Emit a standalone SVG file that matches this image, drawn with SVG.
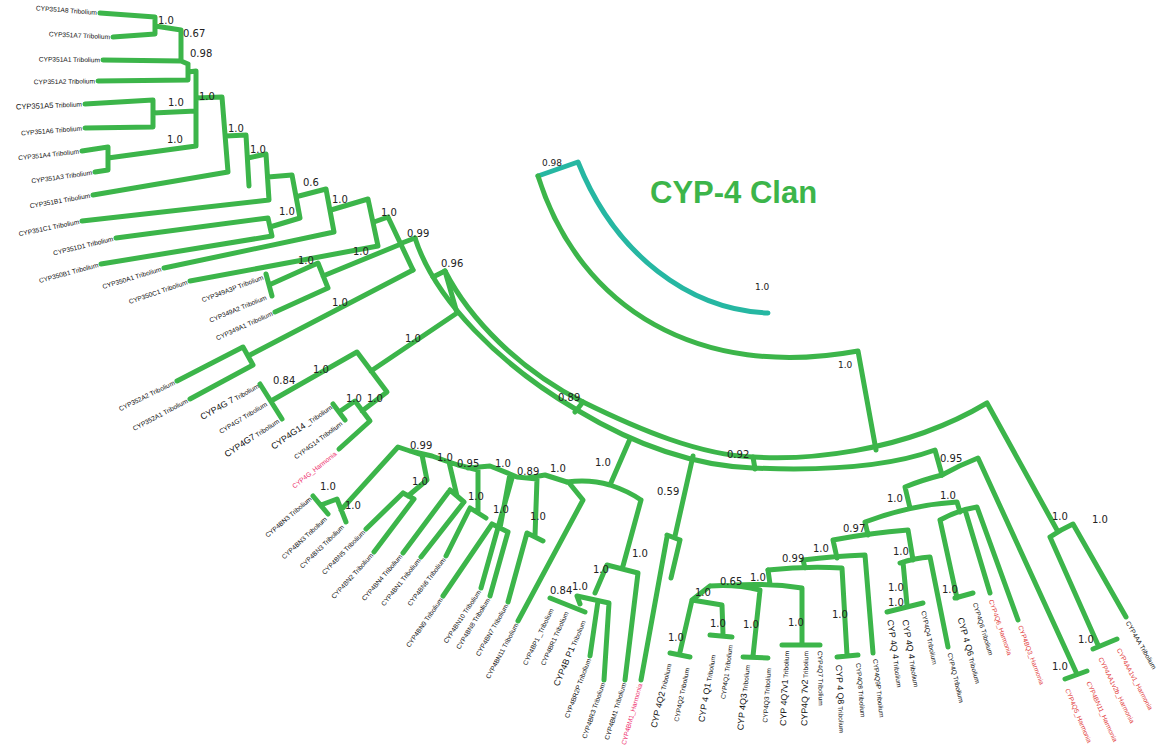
<svg xmlns="http://www.w3.org/2000/svg" width="1160" height="750" viewBox="0 0 1160 750">
<style>
.b{fill:none;stroke:#3cb54a;stroke-width:5;stroke-linecap:round;stroke-linejoin:round}
.tl{fill:none;stroke:#26b7a2;stroke-width:5;stroke-linecap:round;stroke-linejoin:round}
.l{font-family:"Liberation Sans",Arial,sans-serif;font-size:6.6px;fill:#111;white-space:pre}
.e{text-anchor:end}
.r{fill:#e23a3a}
.p{fill:#ee2a6a}
.g{font-size:8.8px}
.s{font-family:"DejaVu Sans",sans-serif;font-size:10px;fill:#222}
.ttl{font-family:"Liberation Sans",Arial,sans-serif;font-weight:bold;font-size:31px;fill:#3cb54a}
</style>
<rect width="1160" height="750" fill="#fff"/>
<g id="connectors">
<path class="tl" d="M538,176 L578,162 C615,255 690,310 768,313"/>
<path class="b" d="M538,176 C580,310 700,380 858,351 L876,450"/>
<path class="b" d="M415,238 C435,300 500,365 577,410 C640,448 700,466 753,468 C800,470 880,470 935,450 L942,475"/>
<path class="b" d="M445,271 C470,320 520,370 583,402 C640,430 700,455 753,457 C800,460 900,455 987,403 L1057,530"/>
<path class="b" d="M575,412 L583,402 M753,457 L755,469 M402,243 L415,238 M433,277 L445,271"/>
<path class="b" d="M100,13 L155,17 L155,34 L113,37 M155,26 L181,30 M103,60 L181,61 L181,30 M181,61 L188,64 M98,81 L188,80 L188,64 M188,72 L196,71 M85,104 L153,100 L153,127 L85,128 M153,113 L196,111 M196,71 L196,146 M82,151 L108,147 L108,170 L95,172 M108,158 L196,146 M196,98 L222,97 L228,172 L93,195 M226,136 L246,135 L249,186 M248,158 L266,154 L269,200 L82,221 M268,177 L292,175 L300,218 M116,238 L268,218 L272,236 L101,264 M270,227 L300,218 M299,196 L326,189 L334,232 L164,268 M331,210 L368,199 L378,246 L190,281 M374,222 L388,217 L413,270"/>
<path class="b" d="M266,274 L272,296 M269,285 L318,263 L328,288 L275,312 M323,276 L401,244"/>
<path class="b" d="M177,381 L243,347 L253,365 L190,399 M248,356 L413,270"/>
<path class="b" d="M260,384 L282,419 M271,401 L357,352 L387,392 L362,411 M371,371 L457,313 L445,271 M333,404 L345,420 M339,412 L355,401 L370,421 L339,449"/>
<path class="b" d="M313,496 L328,514 M321,505 L337,499 L346,522 M341,510 L398,447 L422,455 L427,480 L408,496 M403,493 L414,499 M366,529 L403,493 M374,552 L414,499 M410,451 L432,456 L449,462 L457,496 M450,490 L464,502 M403,553 L450,490 M421,557 L464,502 M440,459 L458,465 L478,470 L478,512 M470,508 L486,518 M446,556 L470,508 M468,468 L490,466 L510,474 L500,528 M492,524 L508,532 M443,596 L492,524 M490,596 L508,532 M481,588 L512,478 M500,470 L517,477 L537,479 L535,536 M527,533 L543,541 M508,602 L527,533 M527,478 L545,475 L567,482 M518,621 L583,500 L570,484"/>
<path class="b" d="M567,482 Q590,479 610,485 Q628,491 641,500 M610,485 L630,439 M641,500 L623,566 M607,565 L638,573 L625,680 M607,565 L595,593 M577,596 L609,603 L604,680 M577,596 L580,604 M550,598 L585,612 M590,656 L598,601"/>
<path class="b" d="M693,456 L675,536 M667,535 L680,540 M667,537 L641,680 M680,540 L671,578"/>
<path class="b" d="M768,570 L770,584 M735,585 Q770,583 802,588 L802,645 M782,645 L820,645 M710,586 Q735,584 760,590 L753,656 M743,657 L768,658 M710,586 L692,600 L722,605 L723,634 M710,635 L732,637 M692,600 L680,652 M670,653 L690,657"/>
<path class="b" d="M768,570 Q805,566 842,568 L847,655 M837,657 L858,655 M805,568 L803,560 Q835,556 865,555 L873,653 M837,558 L833,540 Q870,533 908,530 L913,560 M900,563 Q915,558 930,557 L948,647 M903,562 L907,605 M887,612 L923,603 M868,535 L865,522 Q910,505 957,502 L960,512 M940,520 Q958,510 977,507 L1018,620 M940,520 L957,598 M966,513 L990,593 M955,598 L973,593 M942,475 Q922,480 905,487 L910,508"/>
<path class="b" d="M942,475 Q960,465 978,458 L1076,672 M1065,679 L1087,671 M1050,537 Q1060,530 1073,524 L1126,617 M1050,537 L1098,645 M1093,649 L1117,639"/>
</g>
<g id="title"><text class="ttl" x="650" y="203">CYP-4 Clan</text></g>
<g id="support">
<text class="s" x="158" y="24">1.0</text>
<text class="s" x="183" y="37">0.67</text>
<text class="s" x="190" y="57">0.98</text>
<text class="s" x="199" y="100">1.0</text>
<text class="s" x="168" y="106">1.0</text>
<text class="s" x="228" y="132">1.0</text>
<text class="s" x="167" y="143">1.0</text>
<text class="s" x="250" y="153">1.0</text>
<text class="s" x="279" y="215">1.0</text>
<text class="s" x="303" y="186">0.6</text>
<text class="s" x="332" y="203">1.0</text>
<text class="s" x="381" y="216">1.0</text>
<text class="s" x="298" y="264">1.0</text>
<text class="s" x="353" y="255">1.0</text>
<text class="s" x="332" y="306">1.0</text>
<text class="s" x="407" y="237">0.99</text>
<text class="s" x="441" y="267">0.96</text>
<text class="s" x="405" y="342">1.0</text>
<text class="s" x="313" y="373">1.0</text>
<text class="s" x="273" y="384">0.84</text>
<text class="s" x="346" y="402">1.0</text>
<text class="s" x="367" y="402">1.0</text>
<text class="s" x="558" y="401">0.89</text>
<text class="s" x="410" y="449">0.99</text>
<text class="s" x="437" y="461">1.0</text>
<text class="s" x="457" y="467">0.95</text>
<text class="s" x="495" y="467">1.0</text>
<text class="s" x="412" y="485">1.0</text>
<text class="s" x="468" y="500">1.0</text>
<text class="s" x="493" y="513">1.0</text>
<text class="s" x="320" y="490">1.0</text>
<text class="s" x="345" y="509">1.0</text>
<text class="s" x="517" y="475">0.89</text>
<text class="s" x="550" y="472">1.0</text>
<text class="s" x="595" y="466">1.0</text>
<text class="s" x="530" y="520">1.0</text>
<text class="s" x="593" y="573">1.0</text>
<text class="s" x="550" y="594">0.84</text>
<text class="s" x="572" y="590">1.0</text>
<text class="s" x="657" y="495">0.59</text>
<text class="s" x="727" y="458">0.92</text>
<text class="s" x="940" y="462">0.95</text>
<text class="s" x="887" y="502">1.0</text>
<text class="s" x="940" y="499">1.0</text>
<text class="s" x="843" y="532">0.97</text>
<text class="s" x="813" y="552">1.0</text>
<text class="s" x="893" y="555">1.0</text>
<text class="s" x="782" y="562">0.99</text>
<text class="s" x="632" y="557">1.0</text>
<text class="s" x="720" y="585">0.65</text>
<text class="s" x="750" y="581">1.0</text>
<text class="s" x="695" y="596">1.0</text>
<text class="s" x="710" y="627">1.0</text>
<text class="s" x="668" y="641">1.0</text>
<text class="s" x="743" y="628">1.0</text>
<text class="s" x="788" y="626">1.0</text>
<text class="s" x="832" y="618">1.0</text>
<text class="s" x="888" y="591">1.0</text>
<text class="s" x="888" y="606">1.0</text>
<text class="s" x="942" y="593">1.0</text>
<text class="s" x="1052" y="520">1.0</text>
<text class="s" x="1092" y="523">1.0</text>
<text class="s" x="1078" y="643">1.0</text>
<text class="s" x="1052" y="670">1.0</text>
<text class="s" x="542" y="166" style="font-size:9px">0.98</text>
<text class="s" x="755" y="290" style="font-size:9px">1.0</text>
<text class="s" x="838" y="368" style="font-size:9px">1.0</text>
</g>
<g id="leaves-left" class="l e">
<g id="n-351A8"><text transform="translate(100,13) rotate(4.6)" x="-3" y="2.3">CYP351A8  Tribolium</text></g>
<g id="n-351A7"><text transform="translate(113,37) rotate(2.7)" x="-3" y="2.3">CYP351A7  Tribolium</text></g>
<g id="n-351A1"><text transform="translate(103,60) rotate(0.8)" x="-3" y="2.3">CYP351A1  Tribolium</text></g>
<g id="n-351A2"><text transform="translate(98,81) rotate(-0.9)" x="-3" y="2.3">CYP351A2  Tribolium</text></g>
<g id="n-351A5"><text transform="translate(85,104) rotate(-2.7)" x="-3" y="2.3"><tspan style="font-size:7.6px">CYP351A5</tspan>  Tribolium</text></g>
<g id="n-351A6"><text transform="translate(85,128) rotate(-4.6)" x="-3" y="2.3">CYP351A6  Tribolium</text></g>
<g id="n-351A4"><text transform="translate(82,151) rotate(-6.3)" x="-3" y="2.3">CYP351A4  Tribolium</text></g>
<g id="n-351A3"><text transform="translate(95,172) rotate(-8.1)" x="-3" y="2.3">CYP351A3  Tribolium</text></g>
<g id="n-351B1"><text transform="translate(93,195) rotate(-9.9)" x="-3" y="2.3">CYP351B1 Tribolium</text></g>
<g id="n-351C1"><text transform="translate(82,221) rotate(-11.6)" x="-3" y="2.3">CYP351C1 Tribolium</text></g>
<g id="n-351D1"><text transform="translate(116,238) rotate(-13.6)" x="-3" y="2.3">CYP351D1  Tribolium</text></g>
<g id="n-350B1"><text transform="translate(101,264) rotate(-15.2)" x="-3" y="2.3">CYP350B1  Tribolium</text></g>
<g id="n-350A1"><text transform="translate(164,268) rotate(-17)" x="-3" y="2.3">CYP350A1  Tribolium</text></g>
<g id="n-350C1"><text transform="translate(190,281) rotate(-18.9)" x="-3" y="2.3">CYP350C1  Tribolium</text></g>
<g id="n-349A3P"><text transform="translate(266,276) rotate(-20.7)" x="-3" y="2.3">CYP349A3P   Tribolium</text></g>
<g id="n-349A2"><text transform="translate(269,296) rotate(-22.5)" x="-3" y="2.3">CYP349A2   Tribolium</text></g>
<g id="n-349A1"><text transform="translate(275,312) rotate(-24.2)" x="-3" y="2.3">CYP349A1 Tribolium</text></g>
<g id="n-352A2"><text transform="translate(177,381) rotate(-26.1)" x="-3" y="2.3">CYP352A2   Tribolium</text></g>
<g id="n-352A1"><text transform="translate(190,399) rotate(-27.9)" x="-3" y="2.3">CYP352A1   Tribolium</text></g>
<g id="n-4G7a"><text transform="translate(261,384) rotate(-29.7)" x="-3" y="2.3"><tspan class="g">CYP4G 7</tspan> Tribolium</text></g>
<g id="n-4G7b"><text transform="translate(269,402) rotate(-31.4)" x="-3" y="2.3">CYP4G7  Tribolium</text></g>
<g id="n-4G7c"><text transform="translate(281,419) rotate(-33.4)" x="-3" y="2.3"><tspan class="g">CYP4G7</tspan>  Tribolium</text></g>
<g id="n-4G14a"><text transform="translate(334,405) rotate(-34.8)" x="-3" y="2.3"><tspan class="g">CYP4G14</tspan> _Tribolium</text></g>
<g id="n-4G14b"><text transform="translate(344,421) rotate(-36.8)" x="-3" y="2.3">CYP4G14  Tribolium</text></g>
<g id="n-4GH"><text class="p" transform="translate(338,451) rotate(-38.6)" x="-3" y="2.3">CYP4G_Harmonia</text></g>
<g id="n-4BN3a"><text transform="translate(313,496) rotate(-40.6)" x="-3" y="2.3">CYP4BN3 Tribolium</text></g>
<g id="n-4BN3b"><text transform="translate(328,516) rotate(-42.7)" x="-3" y="2.3">CYP4BN3  Tribolium</text></g>
<g id="n-4BN3c"><text transform="translate(345,524) rotate(-44.3)" x="-3" y="2.3">CYP4BN3  Tribolium</text></g>
<g id="n-4BN5"><text transform="translate(366,529) rotate(-45.9)" x="-3" y="2.3">CYP4BN5   Tribolium</text></g>
<g id="n-4BN2"><text transform="translate(374,552) rotate(-47.8)" x="-3" y="2.3">CYP4BN2   Tribolium</text></g>
<g id="n-4BN4"><text transform="translate(403,553) rotate(-49.5)" x="-3" y="2.3">CYP4BN4  Tribolium</text></g>
<g id="n-4BN1"><text transform="translate(421,557) rotate(-51.3)" x="-3" y="2.3">CYP4BN1  Tribolium</text></g>
<g id="n-4BN6"><text transform="translate(446,556) rotate(-53)" x="-3" y="2.3">CYP4BN6 Tribolium</text></g>
<g id="n-4BN9"><text transform="translate(443,596) rotate(-55)" x="-3" y="2.3">CYP4BN9   Tribolium</text></g>
<g id="n-4BN10"><text transform="translate(481,588) rotate(-56.7)" x="-3" y="2.3">CYP4BN10   Tribolium</text></g>
<g id="n-4BN8"><text transform="translate(490,596) rotate(-58.5)" x="-3" y="2.3">CYP4BN8   Tribolium</text></g>
<g id="n-4BN7"><text transform="translate(508,602) rotate(-60.3)" x="-3" y="2.3">CYP4BN7 Tribolium</text></g>
<g id="n-4BN11"><text transform="translate(518,621) rotate(-62)" x="-3" y="2.3">CYP4BN11   Tribolium</text></g>
<g id="n-4BP1"><text transform="translate(553,606) rotate(-64.3)" x="-3" y="2.3">CYP4BP1 _Tribolium</text></g>
<g id="n-4BR1"><text transform="translate(568,609) rotate(-65.6)" x="-3" y="2.3">CYP4BR1 Tribolium</text></g>
<g id="n-4BP1b"><text transform="translate(585,618) rotate(-67.3)" x="-3" y="2.3"><tspan class="g">CYP4B P1</tspan>  Tribolium</text></g>
<g id="n-4BR2P"><text transform="translate(590,656) rotate(-69.3)" x="-3" y="2.3">CYP4BR2P   Tribolium</text></g>
<g id="n-4BR3"><text transform="translate(604,680) rotate(-71.2)" x="-3" y="2.3">CYP4BR3   Tribolium</text></g>
<g id="n-4BM1"><text transform="translate(625,680) rotate(-72.9)" x="-3" y="2.3">CYP4BM1   Tribolium</text></g>
<g id="n-4BM1H"><text class="p" transform="translate(641,681) rotate(-74.6)" x="-3" y="2.3">CYP4BM1_Harmonia</text></g>
<g id="n-4Q2a"><text transform="translate(670,661) rotate(-76.8)" x="-3" y="2.3"><tspan class="g">CYP 4Q2</tspan>   Tribolium</text></g>
<g id="n-4Q2b"><text transform="translate(688,665) rotate(-78.3)" x="-3" y="2.3">CYP4Q2   Tribolium</text></g>
<g id="n-4Q1a"><text transform="translate(714,652) rotate(-80.2)" x="-3" y="2.3"><tspan class="g">CYP 4 Q1</tspan>  Tribolium</text></g>
<g id="n-4Q1b"><text transform="translate(731,642) rotate(-82)" x="-3" y="2.3">CYP4Q1   Tribolium</text></g>
<g id="n-4Q3a"><text transform="translate(748,662) rotate(-84)" x="-3" y="2.3"><tspan class="g">CYP 4Q3</tspan>  Tribolium</text></g>
<g id="n-4Q3b"><text transform="translate(769,665) rotate(-86)" x="-3" y="2.3">CYP4Q3   Tribolium</text></g>
<g id="n-4Q7v1"><text transform="translate(787,648) rotate(-87.5)" x="-3" y="2.3"><tspan class="g">CYP 4Q7v1</tspan>  Tribolium</text></g>
<g id="n-4Q7v2"><text transform="translate(806,648) rotate(-89.3)" x="-3" y="2.3"><tspan class="g">CYP4Q 7v2</tspan>  Tribolium</text></g>
</g>
<g id="leaves-right" class="l">
<g id="n-4Q7"><text transform="translate(820,648) rotate(89)" x="3" y="2.3">CYP4Q7  Tribolium</text></g>
<g id="n-4Q8a"><text transform="translate(838,662) rotate(87)" x="3" y="2.3"><tspan class="g">CYP 4 Q8</tspan>  Tribolium</text></g>
<g id="n-4Q8b"><text transform="translate(858,660) rotate(85)" x="3" y="2.3">CYP4Q8   Tribolium</text></g>
<g id="n-4Q9P"><text transform="translate(875,656) rotate(83.7)" x="3" y="2.3">CYP4Q9P   Tribolium</text></g>
<g id="n-4Q4a"><text transform="translate(889,617) rotate(81.6)" x="3" y="2.3"><tspan class="g">CYP 4Q 4</tspan>  Tribolium</text></g>
<g id="n-4Q4b"><text transform="translate(904,617) rotate(80.1)" x="3" y="2.3"><tspan class="g">CYP 4Q 4</tspan>  Tribolium</text></g>
<g id="n-4Q4c"><text transform="translate(923,608) rotate(78.2)" x="3" y="2.3">CYP4Q4   Tribolium</text></g>
<g id="n-4Q"><text transform="translate(949,650) rotate(76.6)" x="3" y="2.3">CYP4Q  Tribolium</text></g>
<g id="n-4Q6a"><text transform="translate(959,615) rotate(74.5)" x="3" y="2.3"><tspan class="g">CYP 4 Q6</tspan>   Tribolium</text></g>
<g id="n-4Q6b"><text transform="translate(974,600) rotate(72.8)" x="3" y="2.3">CYP4Q6    Tribolium</text></g>
<g id="n-4Q6H"><text class="r" transform="translate(990,597) rotate(71)" x="3" y="2.3">CYP4Q6_Harmonia</text></g>
<g id="n-4BQ3H"><text class="r" transform="translate(1019,623) rotate(69.3)" x="3" y="2.3">CYP4BQ3_Harmonia</text></g>
<g id="n-4Q5H"><text class="r" transform="translate(1066,686) rotate(67.2)" x="3" y="2.3">CYP4Q5_Harmonia</text></g>
<g id="n-4BN11H"><text class="r" transform="translate(1087,679) rotate(65.4)" x="3" y="2.3">CYP4BN11_Harmonia</text></g>
<g id="n-4AA1v2b"><text class="r" transform="translate(1099,655) rotate(63.6)" x="3" y="2.3">CYP4AA1v2b_Harmonia</text></g>
<g id="n-4AA1v1"><text class="r" transform="translate(1117,646) rotate(61.8)" x="3" y="2.3">CYP4AA1v1_Harmonia</text></g>
<g id="n-4AA"><text transform="translate(1126,619) rotate(59.9)" x="3" y="2.3">CYP4AA  Tribolium</text></g>
</g>
</svg>
